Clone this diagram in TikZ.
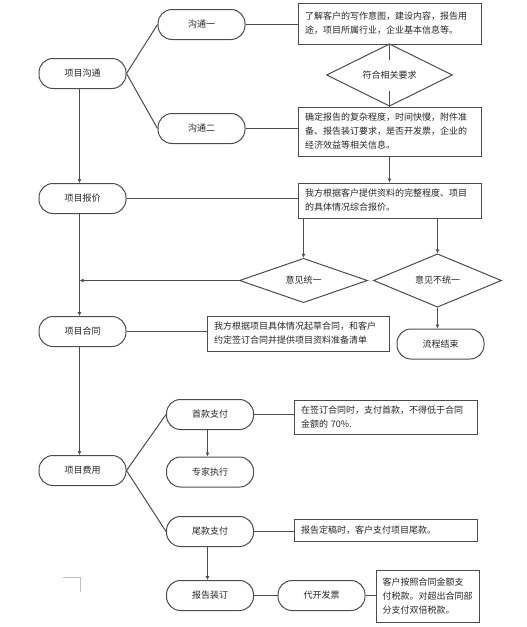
\documentclass[tikz,border=0pt]{standalone}
\usepackage{fontspec}
\newfontfamily\cjk{Noto Sans CJK SC}
\usetikzlibrary{arrows.meta,shapes.geometric}
\tikzset{pill/.style={draw=black!70,line width=1pt,rounded corners=14pt,minimum width=87pt,minimum height=30pt,inner sep=0pt,font=\cjk\fontsize{9}{11}\selectfont,text=black!85}}
\tikzset{note/.style={draw=black!70,line width=1pt,inner xsep=7pt,inner ysep=0pt,text width=169pt,align=left,font=\cjk\fontsize{9}{14}\selectfont,text=black!85}}
\tikzset{cond/.style={diamond,draw=black!70,line width=1pt,inner sep=0pt,minimum width=126pt,minimum height=32pt,font=\cjk\fontsize{9}{11}\selectfont,text=black!85}}
\tikzset{link/.style={draw=black!70,line width=1pt}}
\tikzset{flow/.style={link,-{Latex[length=4pt,width=4pt]}}}

\begin{document}
\begin{tikzpicture}[x=1pt,y=-1pt]
	\useasboundingbox (0,0) rectangle (527,627);
	\node[pill] (talk) at (82.5,73.5) {项目沟通};
	\node[pill] (talkA) at (201.5,24.5) {沟通一};
	\node[pill] (talkB) at (201.5,128.5) {沟通二};
	\node[note,minimum height=41pt] (need) at (389.5,23.5) {了解客户的写作意图，建设内容，报告用\\途，项目所属行业，企业基本信息等。};
	\node[cond] (match) at (389.5,75) {符合相关要求};
	\node[note,minimum height=49pt] (detail) at (389.5,131.5) {确定报告的复杂程度，时间快慢，附件准\\备、报告装订要求，是否开发票，企业的\\经济效益等相关信息。};
	\node[pill] (quote) at (82.5,198.5) {项目报价};
	\node[note,minimum height=35pt] (price) at (389.5,200.5) {我方根据客户提供资料的完整程度、项目\\的具体情况综合报价。};
	\node[cond,minimum width=128pt,minimum height=38pt] (agree) at (303.5,280.5) {意见统一};
	\node[cond,minimum width=128pt,minimum height=38pt] (disagree) at (437.5,280.5) {意见不统一};
	\node[pill] (contract) at (82.5,331.5) {项目合同};
	\node[note,text width=168pt,minimum height=35pt] (draft) at (298,333.5) {我方根据项目具体情况起草合同，和客户\\约定签订合同并提供项目资料准备清单};
	\node[pill] (finish) at (440.5,344) {流程结束};
	\node[pill] (fee) at (82.5,470.5) {项目费用};
	\node[pill] (first) at (210,414.5) {首款支付};
	\node[pill] (expert) at (210,472) {专家执行};
	\node[pill] (last) at (210,531.5) {尾款支付};
	\node[pill] (bind) at (210,595.5) {报告装订};
	\node[pill] (invoice) at (321.5,595.5) {代开发票};
	\node[note,minimum height=34pt] (firstnote) at (385.5,417) {在签订合同时，支付首款，不得低于合同\\金额的 70\%.};
	\node[note,minimum height=22pt] (lastnote) at (385.5,530) {报告定稿时，客户支付项目尾款。};
	\node[note,text width=90pt,inner xsep=6.5pt,minimum height=52pt] (taxnote) at (427.5,596) {客户按照合同金额支\\付税款。对超出合同部\\分支付双倍税款。};

	\draw[link] (talk.east) -- (talkA.west);
	\draw[link] (talk.east) -- (talkB.west);
	\draw[link] (talkA.east) -- (talkA.east -| need.west);
	\draw[link] (talkB.east) -- (talkB.east -| detail.west);
	\draw[link] (need.south) -- ++(0,15);
	\draw[link] (detail.north) -- ++(0,-16);
	\draw[flow] (detail.south) -- (price.north);
	\draw[flow] ([xshift=-3pt]talk.south) -- ([xshift=-3pt]quote.north);
	\draw[link] (quote.east) -- (quote.east -| price.west);
	\draw[flow] (agree.north |- price.south) -- (agree.north);
	\draw[flow] (disagree.north |- price.south) -- (disagree.north);
	\draw[flow] ([xshift=-3pt]quote.south) -- ([xshift=-3pt]contract.north);
	\draw[flow] (agree.west) -- ([xshift=-3pt]quote.south |- agree.west);
	\draw[flow] (disagree.south) -- (disagree.south |- finish.north);
	\draw[link] (contract.east) -- (contract.east -| draft.west);
	\draw[flow] ([xshift=-3pt]contract.south) -- ([xshift=-3pt]fee.north);
	\draw[link] (fee.east) -- (first.west);
	\draw[link] (fee.east) -- (last.west);
	\draw[link] (first.east) -- (first.east -| firstnote.west);
	\draw[flow] ([xshift=-2.5pt]first.south) -- ([xshift=-2.5pt]expert.north);
	\draw[link] (last.east) -- (last.east -| lastnote.west);
	\draw[flow] ([xshift=-2.5pt]last.south) -- ([xshift=-2.5pt]bind.north);
	\draw[link] (bind.east) -- (invoice.west);
	\draw[link] (invoice.east) -- (invoice.east -| taxnote.west);
	\draw[black!25] (63,577.5) -- (80.5,577.5) -- (80.5,592);
\end{tikzpicture}
\end{document}
